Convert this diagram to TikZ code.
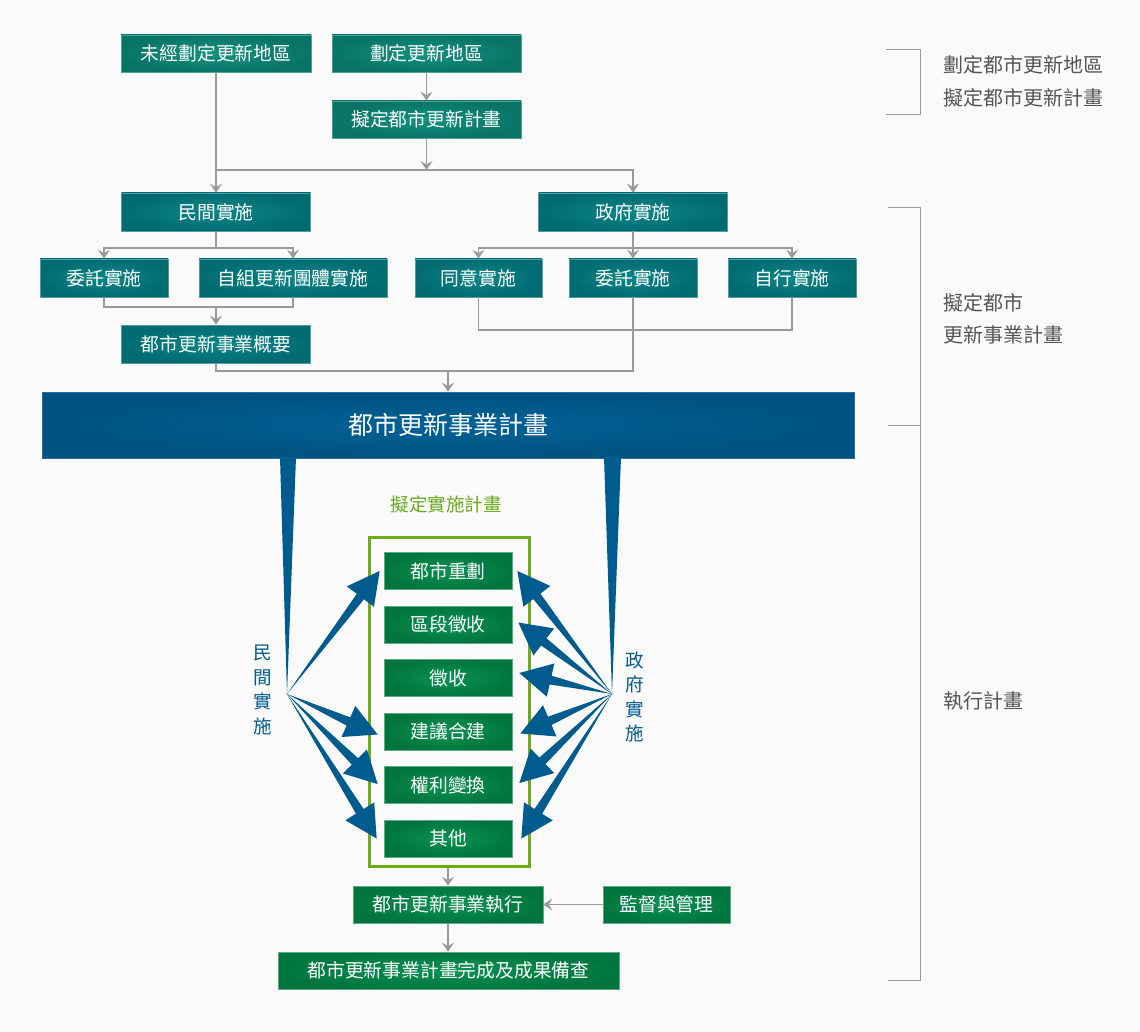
\documentclass[tikz,border=0pt]{standalone}
\usepackage{fontspec}
\newfontfamily\cjk{Noto Sans CJK TC}
\usetikzlibrary{calc,arrows.meta}
\definecolor{bg}{HTML}{FAFAFA}
\definecolor{linegray}{HTML}{9A9A9A}
\definecolor{txtgray}{HTML}{555555}
\definecolor{fanblue}{HTML}{005B8F}
\definecolor{framegreen}{HTML}{6FAA1E}
\definecolor{labelgreen}{HTML}{6AAA1E}
\newcommand\fanarrow[2]{%
  \coordinate (ft) at #2;
  \coordinate (fb) at ($(ft)!32pt!(#1)$);
  \fill[fanblue] (#1) -- ($(fb)!4.5pt!90:(ft)$) -- ($(fb)!17pt!90:(ft)$) -- (ft)
     -- ($(fb)!17pt!-90:(ft)$) -- ($(fb)!4.5pt!-90:(ft)$) -- cycle;}
\begin{document}
\begin{tikzpicture}[x=1pt,y=-1pt,
  boxbase/.style={minimum height=37, inner sep=0pt, text=white,
     font=\cjk\fontsize{18.8}{22}\selectfont, line width=0.7pt},
  topbox/.style={boxbase, inner color={rgb,255:red,20;green,146;blue,128}, outer color={rgb,255:red,8;green,116;blue,102}, draw={rgb,255:red,80;green,160;blue,148}},
  midbox/.style={boxbase, minimum height=38, inner color={rgb,255:red,12;green,134;blue,136}, outer color={rgb,255:red,0;green,108;blue,114}, draw={rgb,255:red,80;green,156;blue,160}},
  grbox/.style={boxbase, inner color={rgb,255:red,10;green,146;blue,82}, outer color={rgb,255:red,0;green,118;blue,62}, draw={rgb,255:red,90;green,170;blue,130}},
  bigbox/.style={minimum height=66, minimum width=812, inner sep=0pt, text=white,
     font=\cjk\fontsize{25}{28}\selectfont, inner color={rgb,255:red,0;green,98;blue,152}, outer color={rgb,255:red,0;green,82;blue,128}, draw={rgb,255:red,40;green,110;blue,160}, line width=0.7pt},
  conn/.style={draw=linegray, line width=1.2pt},
  arr/.style={conn, -{Stealth[length=9pt,width=12pt,inset=3.5pt]}},
  sidetxt/.style={anchor=west, text=txtgray, font=\cjk\fontsize{20}{22}\selectfont},
  vtxt/.style={align=center, text=fanblue, font=\cjk\fontsize{18.5}{24.5}\selectfont},
]
\useasboundingbox[fill=bg] (0,0) rectangle (1140,1032);

% top level
\node[topbox, minimum width=190] (n1) at (216,53.5) {未經劃定更新地區};
\node[topbox, minimum width=189] (n2) at (426.5,53.5) {劃定更新地區};
\node[topbox, minimum width=189] (n3) at (426.5,119.5) {擬定都市更新計畫};

% implementation
\node[midbox, minimum width=189] (p) at (216,212) {民間實施};
\node[midbox, minimum width=189] (g) at (633,212) {政府實施};
\node[midbox, minimum width=128] (p1) at (104,278) {委託實施};
\node[midbox, minimum width=188] (p2) at (293,278) {自組更新團體實施};
\node[midbox, minimum width=127] (g1) at (478.5,278) {同意實施};
\node[midbox, minimum width=128] (g2) at (633,278) {委託實施};
\node[midbox, minimum width=128] (g3) at (792,278) {自行實施};
\node[midbox, minimum width=189] (ps) at (216,344) {都市更新事業概要};
\node[bigbox] (big) at (448,425) {都市更新事業計畫};

% connectors top
\draw[arr] (n2.south) -- (n3.north);
\coordinate (j1) at (n3.south |- 0,170);
\draw[arr] (n3.south) -- (j1);
\draw[arr] (n1.south) -- (n1.south |- p.north);
\draw[arr] (n1.south |- j1) -- (g.south |- j1) -- (g.north);

\coordinate (j2) at (p.south |- 0,248);
\draw[conn] (p.south) -- (j2);
\draw[arr] (j2) -| (p1.north);
\draw[arr] (j2) -| (p2.north);
\coordinate (j3) at (g.south |- 0,248);
\draw[arr] (g.south) -- (g2.north);
\draw[arr] (j3) -| (g1.north);
\draw[arr] (j3) -| (g3.north);

\coordinate (j4) at (ps.north |- 0,307);
\draw[conn] (p1.south) |- (p2.south |- j4) -- (p2.south);
\draw[arr] (j4) -- (ps.north);
\draw[conn] (g1.south) |- (g3.south |- 0,330) -- (g3.south);
\coordinate (j5) at (g2.south |- 0,371);
\draw[conn] (g2.south) -- (j5) -- (ps.south |- j5) -- (ps.south);
\draw[arr] (big.north |- j5) -- (big.north);

% tapered bars
\coordinate (L) at (287,694);
\coordinate (R) at (612,694);
\fill[fanblue] (280,457) -- (296,457) -- (L) -- cycle;
\fill[fanblue] (604,457) -- (621,457) -- (R) -- cycle;

% implementation plan
\node[text=labelgreen, font=\cjk\fontsize{18.5}{22}\selectfont] (plan) at (446,504) {擬定實施計畫};
\node[draw=framegreen, line width=3pt, minimum width=160, minimum height=329, inner sep=0pt] (frame) at (449,701.5) {};
\node[grbox, minimum width=128] (b1) at (448,571) {都市重劃};
\node[grbox, minimum width=128] (b2) at (448,624.5) {區段徵收};
\node[grbox, minimum width=128] (b3) at (448,678) {徵收};
\node[grbox, minimum width=128] (b4) at (448,731.5) {建議合建};
\node[grbox, minimum width=128] (b5) at (448,785) {權利變換};
\node[grbox, minimum width=128] (b6) at (448,838.5) {其他};

\node[vtxt] (vl) at (263,690) {民\\間\\實\\施};
\node[vtxt] (vr) at (635,697) {政\\府\\實\\施};

% fan arrows
\fanarrow{L}{($(b1.west)+(-4,0)$)}
\fanarrow{L}{($(b4.west)+(-6,3)$)}
\fanarrow{L}{($(b5.west)+(-6,-1)$)}
\fanarrow{L}{($(b6.west)+(-7,0)$)}
\fanarrow{R}{($(b1.east)+(5,0)$)}
\fanarrow{R}{($(b2.east)+(6,-2)$)}
\fanarrow{R}{($(b3.east)+(7,-5)$)}
\fanarrow{R}{($(b4.east)+(8,2)$)}
\fanarrow{R}{($(b5.east)+(7,-2)$)}
\fanarrow{R}{($(b6.east)+(9,0)$)}

% execution
\node[grbox, minimum width=190] (ex) at (448,904.5) {都市更新事業執行};
\node[grbox, minimum width=127] (sup) at (666.5,904.5) {監督與管理};
\node[grbox, minimum width=341] (done) at (448.5,970.5) {都市更新事業計畫完成及成果備查};
\draw[arr] (frame.south -| ex.north) -- (ex.north);
\draw[arr] (sup.west) -- (ex.east);
\draw[arr] (ex.south) -- (ex.south |- done.north);

% side brackets
\draw[conn, line width=1pt] (886,50) -- (920,50) -- (920,115) -- (886,115);
\draw[conn, line width=1pt] (888,208) -- (920,208) -- (920,980) -- (888,980);
\draw[conn, line width=1pt] (888,425) -- (920,425);
\node[sidetxt] (s1) at (940,65) {劃定都市更新地區};
\node[sidetxt] (s2) at (940,98) {擬定都市更新計畫};
\node[sidetxt] (s3) at (940,303) {擬定都市};
\node[sidetxt] (s4) at (940,335) {更新事業計畫};
\node[sidetxt] (s5) at (940,701) {執行計畫};
\end{tikzpicture}
\end{document}
